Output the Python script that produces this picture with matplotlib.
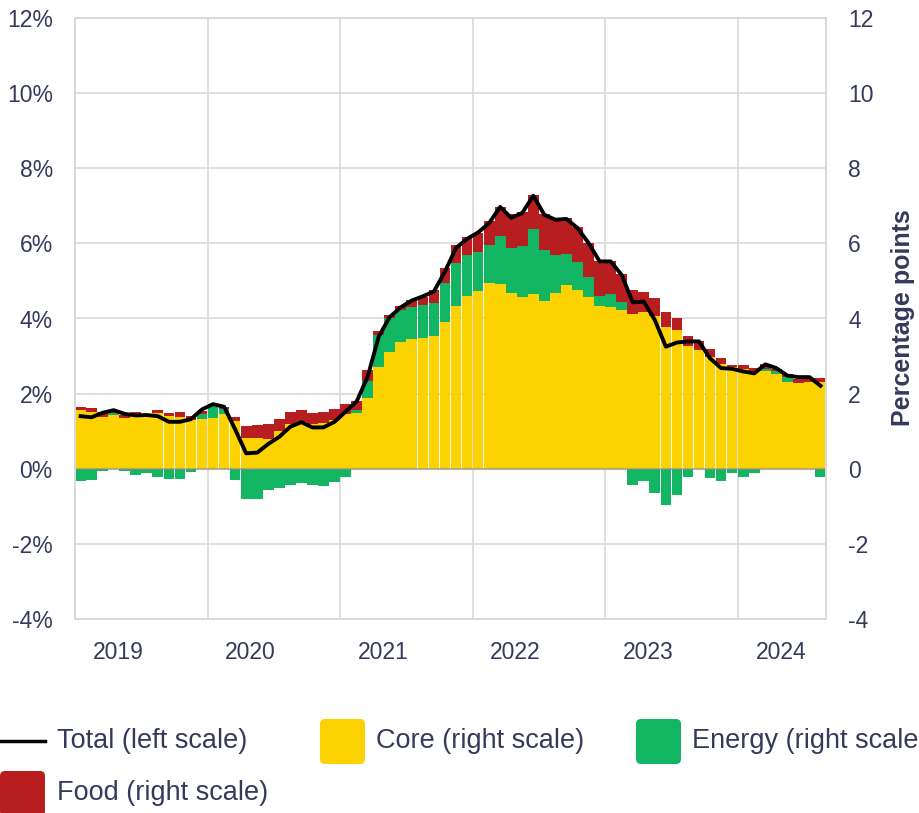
import matplotlib
matplotlib.use("Agg")
import matplotlib.pyplot as plt
from matplotlib.patches import FancyBboxPatch
from matplotlib.lines import Line2D
import numpy as np

plt.rcParams['font.family'] = ['Liberation Sans', 'DejaVu Sans']

# monthly contributions, Jan 2019 - Aug 2024 (percentage points)
core = [1.56, 1.51, 1.39, 1.43, 1.36, 1.45, 1.43, 1.49, 1.41, 1.39, 1.30, 1.33,
        1.36, 1.47, 1.27, 0.83, 0.83, 0.79, 1.00, 1.19, 1.24, 1.19, 1.23, 1.30,
        1.46, 1.49, 1.89, 2.72, 3.11, 3.38, 3.46, 3.49, 3.54, 3.91, 4.34, 4.60,
        4.74, 4.94, 4.92, 4.68, 4.56, 4.66, 4.47, 4.68, 4.90, 4.76, 4.56, 4.34,
        4.30, 4.23, 4.12, 4.16, 4.07, 3.78, 3.70, 3.28, 3.17, 2.98, 2.79, 2.72,
        2.65, 2.61, 2.59, 2.51, 2.32, 2.29, 2.32, 2.32]
energy = [-0.32, -0.29, -0.05, 0.05, -0.05, -0.16, -0.11, -0.21, -0.27, -0.27, -0.08, 0.14,
          0.30, 0.11, -0.30, -0.80, -0.80, -0.57, -0.51, -0.44, -0.38, -0.44, -0.45, -0.35,
          -0.21, 0.07, 0.44, 0.83, 0.91, 0.85, 0.84, 0.87, 0.87, 1.03, 1.15, 1.09,
          1.02, 1.02, 1.28, 1.20, 1.38, 1.72, 1.36, 1.00, 0.83, 0.75, 0.54, 0.27,
          0.36, 0.20, -0.43, -0.32, -0.64, -0.96, -0.69, -0.21, 0.00, -0.25, -0.32, -0.12,
          -0.23, -0.12, 0.06, 0.08, 0.12, 0.00, 0.00, -0.23]
food = [0.08, 0.11, 0.11, 0.02, 0.07, 0.06, 0.04, 0.07, 0.08, 0.11, 0.10, 0.06,
        0.06, 0.07, 0.11, 0.31, 0.34, 0.40, 0.32, 0.32, 0.33, 0.29, 0.28, 0.29,
        0.27, 0.24, 0.29, 0.12, 0.08, 0.11, 0.20, 0.22, 0.36, 0.41, 0.46, 0.47,
        0.52, 0.64, 0.76, 0.90, 0.89, 0.92, 0.95, 0.98, 0.95, 0.92, 0.92, 0.92,
        0.86, 0.76, 0.64, 0.55, 0.48, 0.40, 0.32, 0.26, 0.24, 0.21, 0.16, 0.05,
        0.12, 0.07, 0.14, 0.06, 0.08, 0.10, 0.09, 0.09]
# headline rate (%)
total = [1.40, 1.37, 1.49, 1.56, 1.46, 1.42, 1.43, 1.40, 1.25, 1.25, 1.32, 1.58,
         1.72, 1.65, 1.05, 0.41, 0.43, 0.66, 0.85, 1.12, 1.24, 1.10, 1.10, 1.25,
         1.52, 1.79, 2.45, 3.52, 4.04, 4.30, 4.48, 4.59, 4.72, 5.25, 5.88, 6.12,
         6.29, 6.54, 6.97, 6.68, 6.81, 7.27, 6.76, 6.63, 6.65, 6.41, 6.01, 5.52,
         5.52, 5.16, 4.43, 4.45, 3.96, 3.25, 3.36, 3.39, 3.39, 2.94, 2.68, 2.66,
         2.59, 2.54, 2.78, 2.68, 2.48, 2.44, 2.44, 2.21]
years = ['2019', '2020', '2021', '2022', '2023', '2024']

YELLOW = '#FCD200'
GREEN = '#12B562'
RED = '#B81E20'
TXT = '#353A5C'
GRID = '#d9d9d9'

core = np.array(core)
energy = np.array(energy)
food = np.array(food)
x = np.arange(len(core))

fig = plt.figure(figsize=(9.2, 8.13), dpi=100)
ax = fig.add_axes([75/920, 1 - 619/813, 751/920, 601/813])
ax2 = ax.twinx()

# bars on the right scale
e_pos = np.where(energy > 0, energy, 0)
e_neg = np.where(energy < 0, energy, 0)
w = 0.97
ax2.bar(x, core, width=w, color=YELLOW, linewidth=0, zorder=2)
ax2.bar(x, e_pos, bottom=core, width=w, color=GREEN, linewidth=0, zorder=2)
ax2.bar(x, e_neg, width=w, color=GREEN, linewidth=0, zorder=2)
ax2.bar(x, food, bottom=core + e_pos, width=w, color=RED, linewidth=0, zorder=2)
ax2.axhline(0, color='#8c8c8c', alpha=0.55, lw=1.6, zorder=4)

# grid behind the bars
for v in range(-4, 13, 2):
    ax2.axhline(v, color=GRID, lw=1.2, zorder=0)
for k in range(1, 6):
    ax2.axvline(12*k - 0.5, color=GRID, lw=1.2, zorder=0)

# total line on the left scale, drawn on top
ax.plot(x, total, color='black', lw=2.8, zorder=5)
ax.set_zorder(ax2.get_zorder() + 1)
ax.patch.set_visible(False)

for a in (ax, ax2):
    a.set_ylim(-4, 12)
    a.set_xlim(-0.5, len(core) - 0.5)
    a.set_yticks(range(-4, 13, 2))
    for s in a.spines.values():
        s.set_color(GRID)
        s.set_linewidth(1.2)

ax.set_yticklabels([f'{v}%' for v in range(-4, 13, 2)])
ax2.set_yticklabels([f'{v}' for v in range(-4, 13, 2)])
ax.tick_params(axis='y', length=0, pad=16, labelsize=16.5, labelcolor=TXT)
ax2.tick_params(axis='y', length=0, pad=16, labelsize=16.5, labelcolor=TXT)

ax.set_xticks([12*k + 3.4 for k in range(len(years))])
ax.set_xticklabels(years)
ax.tick_params(axis='x', length=0, pad=16, labelsize=16.5, labelcolor=TXT)

fig.text(903/920, 1 - 318/813, 'Percentage points', rotation=90, ha='center',
         va='center', fontsize=18, fontweight='bold', color=TXT)

# legend, drawn by hand in inches from bottom-left
def swatch(x0, y_top, color):
    fig.add_artist(FancyBboxPatch((x0/100 + 0.03, (813 - y_top - 45)/100 + 0.03), 0.39, 0.39,
                                  boxstyle='round,pad=0.03,rounding_size=0.05',
                                  transform=fig.dpi_scale_trans, color=color, lw=0))

fig.add_artist(Line2D([0, 0.45], [(813 - 741)/100]*2, color='black', lw=2.5,
                      transform=fig.dpi_scale_trans))
fig.text(57/920, 1 - 741/813, 'Total (left scale)', fontsize=19.5, color=TXT, va='center')
swatch(320, 719, YELLOW)
fig.text(376/920, 1 - 741/813, 'Core (right scale)', fontsize=19.5, color=TXT, va='center')
swatch(636, 719, GREEN)
fig.text(692/920, 1 - 741/813, 'Energy (right scale)', fontsize=19.5, color=TXT, va='center')
swatch(0, 771, RED)
fig.text(57/920, 1 - 793/813, 'Food (right scale)', fontsize=19.5, color=TXT, va='center')

fig.savefig('out.png', dpi=100, facecolor='white')
